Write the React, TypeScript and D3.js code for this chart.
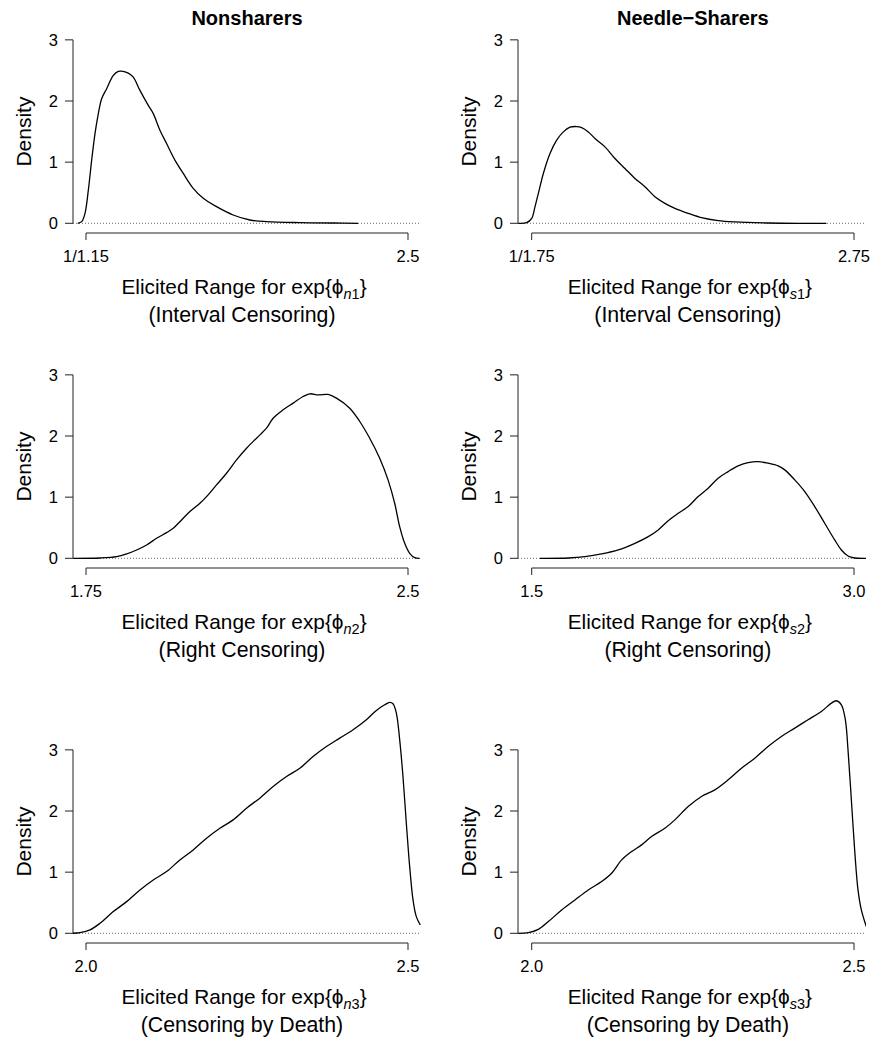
import * as d3 from "d3";

// column titles
const groupTitles = ["Nonsharers", "Needle\u2212Sharers"];
const groupLetters = ["n", "s"];
const censorNotes = ["(Interval Censoring)", "(Right Censoring)", "(Censoring by Death)"];
const densityTicks = [0, 1, 2, 3];

// x axis ticks per panel (value, label)
const nsIntTicks = [1 / 1.15, 2.5];
const nsIntTickLabels = ["1/1.15", "2.5"];
const shIntTicks = [1 / 1.75, 2.75];
const shIntTickLabels = ["1/1.75", "2.75"];
const nsRightTicks = [1.75, 2.5];
const nsRightTickLabels = ["1.75", "2.5"];
const shRightTicks = [1.5, 3.0];
const shRightTickLabels = ["1.5", "3.0"];
const deathTicks = [2.0, 2.5];
const deathTickLabels = ["2.0", "2.5"];

// density curves
const nsIntX = [0.8275, 0.8477, 0.8645, 0.8814, 0.8983, 0.9151, 0.932, 0.9488, 0.9741, 1.0079, 1.0331, 1.05, 1.0837, 1.109, 1.1427, 1.1849, 1.2102, 1.2439, 1.2776, 1.3198, 1.3619, 1.4125, 1.4631, 1.5305, 1.6148, 1.6991, 1.7834, 1.9521, 2.1207, 2.2471];
const nsIntY = [0, 0.027, 0.163, 0.543, 1.033, 1.467, 1.793, 2.038, 2.201, 2.418, 2.484, 2.489, 2.457, 2.391, 2.174, 1.929, 1.793, 1.522, 1.304, 1.033, 0.815, 0.571, 0.408, 0.272, 0.136, 0.054, 0.027, 0.011, 0.005, 0];

const shIntX = [0.4814, 0.5376, 0.5714, 0.5939, 0.6164, 0.6502, 0.6952, 0.7402, 0.7852, 0.8302, 0.8752, 0.909, 0.954, 0.999, 1.0666, 1.1341, 1.2016, 1.2691, 1.3366, 1.4042, 1.4717, 1.5392, 1.6293, 1.7193, 1.8318, 1.9443, 2.1694, 2.3945, 2.5633];
const shIntY = [0, 0.011, 0.082, 0.272, 0.489, 0.815, 1.141, 1.359, 1.495, 1.571, 1.582, 1.565, 1.495, 1.386, 1.25, 1.06, 0.897, 0.734, 0.598, 0.435, 0.326, 0.245, 0.163, 0.092, 0.043, 0.022, 0.005, 0, 0];

const nsRightX = [1.7205, 1.7826, 1.8214, 1.8446, 1.8679, 1.8912, 1.9144, 1.9377, 1.9532, 1.9726, 1.992, 2.0153, 2.0308, 2.054, 2.0773, 2.1006, 2.1239, 2.1471, 2.1704, 2.1859, 2.2092, 2.2324, 2.2557, 2.2712, 2.2906, 2.3139, 2.3333, 2.3643, 2.3876, 2.4108, 2.4341, 2.4535, 2.469, 2.4806, 2.4923, 2.5039, 2.5155, 2.5272];
const nsRightY = [0, 0.005, 0.027, 0.071, 0.136, 0.218, 0.327, 0.42, 0.491, 0.627, 0.764, 0.9, 1.009, 1.2, 1.391, 1.609, 1.8, 1.964, 2.128, 2.291, 2.428, 2.537, 2.646, 2.69, 2.673, 2.679, 2.619, 2.455, 2.237, 1.964, 1.637, 1.282, 0.9, 0.518, 0.245, 0.082, 0.011, 0];

const shRightX = [1.5387, 1.6705, 1.748, 1.8254, 1.9029, 1.9804, 2.0424, 2.0889, 2.1354, 2.1819, 2.2283, 2.2748, 2.3213, 2.3678, 2.4143, 2.4608, 2.5073, 2.5538, 2.6003, 2.6468, 2.6778, 2.7242, 2.7707, 2.8172, 2.8637, 2.9102, 2.9412, 2.9722, 3.0032, 3.0574];
const shRightY = [0, 0.005, 0.027, 0.071, 0.136, 0.245, 0.355, 0.464, 0.616, 0.736, 0.846, 1.009, 1.146, 1.309, 1.418, 1.511, 1.566, 1.582, 1.555, 1.511, 1.446, 1.282, 1.091, 0.846, 0.573, 0.3, 0.136, 0.038, 0.005, 0];

const nsDeathX = [1.9778, 1.9907, 2.0062, 2.0217, 2.0424, 2.0631, 2.0838, 2.1044, 2.1251, 2.1458, 2.1665, 2.1872, 2.2079, 2.2285, 2.2492, 2.2699, 2.2906, 2.3113, 2.332, 2.3526, 2.3733, 2.394, 2.4147, 2.4354, 2.4509, 2.4638, 2.4716, 2.4767, 2.4819, 2.4871, 2.4922, 2.4974, 2.5026, 2.5078, 2.5129, 2.5191];
const nsDeathY = [0, 0.011, 0.055, 0.164, 0.355, 0.518, 0.709, 0.873, 1.009, 1.2, 1.364, 1.555, 1.718, 1.855, 2.046, 2.21, 2.4, 2.564, 2.7, 2.891, 3.055, 3.191, 3.328, 3.492, 3.644, 3.737, 3.775, 3.753, 3.601, 3.164, 2.564, 1.8, 1.091, 0.546, 0.273, 0.136];

const shDeathX = [1.9793, 1.9948, 2.0103, 2.0258, 2.0465, 2.0671, 2.0878, 2.1085, 2.124, 2.1395, 2.155, 2.1705, 2.186, 2.2066, 2.2221, 2.2428, 2.2634, 2.2841, 2.3048, 2.3254, 2.3461, 2.3667, 2.3874, 2.4081, 2.4287, 2.4494, 2.4649, 2.4726, 2.4804, 2.4866, 2.4907, 2.4959, 2.501, 2.5062, 2.5114, 2.5191];
const shDeathY = [0, 0.011, 0.065, 0.191, 0.382, 0.546, 0.709, 0.846, 0.982, 1.2, 1.337, 1.446, 1.582, 1.718, 1.855, 2.073, 2.237, 2.346, 2.51, 2.7, 2.864, 3.055, 3.219, 3.355, 3.492, 3.628, 3.764, 3.803, 3.737, 3.492, 3.0, 2.182, 1.364, 0.709, 0.382, 0.109];

const panels = [
  { row: 0, col: 0, xs: nsIntX, ys: nsIntY, ticks: nsIntTicks, labels: nsIntTickLabels },
  { row: 0, col: 1, xs: shIntX, ys: shIntY, ticks: shIntTicks, labels: shIntTickLabels },
  { row: 1, col: 0, xs: nsRightX, ys: nsRightY, ticks: nsRightTicks, labels: nsRightTickLabels },
  { row: 1, col: 1, xs: shRightX, ys: shRightY, ticks: shRightTicks, labels: shRightTickLabels },
  { row: 2, col: 0, xs: nsDeathX, ys: nsDeathY, ticks: deathTicks, labels: deathTickLabels },
  { row: 2, col: 1, xs: shDeathX, ys: shDeathY, ticks: deathTicks, labels: deathTickLabels },
];

const W = 870, H = 1038;
const font = "'Liberation Sans', Arial, Helvetica, sans-serif";
const colAxisX = [73, 518];     // y axis / left edge of plot region
const colRight = [421, 866];    // right edge of plot region
const colTickA = [86, 531.7];   // first x tick
const colTickB = [408, 854];    // last x tick
const rowZero = [223.3, 558.3, 933.3];
const unitPx = 61.15;

function Panel({ p, idx }) {
  const { row, col } = p;
  const x = d3.scaleLinear().domain(p.ticks).range([colTickA[col], colTickB[col]]);
  const y = d3.scaleLinear().domain([0, 3]).range([rowZero[row], rowZero[row] - 3 * unitPx]);
  const pts = p.xs.map((v, i) => [v, p.ys[i]]);
  const line = d3.line().x(d => x(d[0])).y(d => y(d[1])).curve(d3.curveCatmullRom.alpha(0.5));
  const axX = colAxisX[col];
  const xAxisY = y(0) + 9.7;
  const cx = (colTickA[col] + colTickB[col]) / 2 - 3;
  const clipId = `clip${idx}`;
  return (
    <g>
      <defs>
        <clipPath id={clipId}>
          <rect x={axX} y={y(0) - 260} width={colRight[col] - axX} height={265} />
        </clipPath>
      </defs>
      {row === 0 && (
        <text x={(colTickA[col] + colTickB[col]) / 2} y={25} textAnchor="middle"
          fontWeight="bold" fontSize={20} fontFamily={font}>{groupTitles[col]}</text>
      )}
      {/* dotted zero line */}
      <line x1={axX} x2={colRight[col]} y1={y(0)} y2={y(0)} stroke="#444" strokeWidth={0.8} strokeDasharray="1 2" />
      {/* y axis */}
      <line x1={axX} x2={axX} y1={y(0)} y2={y(3)} stroke="#222" strokeWidth={1} />
      {densityTicks.map(t => (
        <g key={t}>
          <line x1={axX - 8} x2={axX} y1={y(t)} y2={y(t)} stroke="#222" strokeWidth={1} />
          <text x={axX - 15} y={y(t)} dy="0.36em" textAnchor="end" fontSize={16.5} fontFamily={font}>{t}</text>
        </g>
      ))}
      <text transform={`translate(${axX - 50},${y(1.5)}) rotate(-90)`} textAnchor="middle"
        dy="0.36em" fontSize={21} fontFamily={font}>Density</text>
      {/* x axis */}
      <line x1={x(p.ticks[0])} x2={x(p.ticks[1])} y1={xAxisY} y2={xAxisY} stroke="#222" strokeWidth={1} />
      {p.ticks.map((t, i) => (
        <g key={i}>
          <line x1={x(t)} x2={x(t)} y1={xAxisY} y2={xAxisY + 7} stroke="#222" strokeWidth={1} />
          <text x={x(t)} y={xAxisY + 28.5} textAnchor="middle" fontSize={16.5} fontFamily={font}>{p.labels[i]}</text>
        </g>
      ))}
      <text x={cx} y={xAxisY + 61} textAnchor="middle" fontSize={20.8} fontFamily={font}>
        <tspan>Elicited Range for exp{"{"}ϕ</tspan>
        <tspan fontSize={14.5} fontStyle="italic" dy={5}>{groupLetters[col]}</tspan>
        <tspan fontSize={14.5}>{row + 1}</tspan>
        <tspan dy={-5}>{"}"}</tspan>
      </text>
      <text x={cx - 2} y={xAxisY + 89} textAnchor="middle" fontSize={21.3} fontFamily={font}>{censorNotes[row]}</text>
      {/* density curve */}
      <path d={line(pts)} fill="none" stroke="#000" strokeWidth={1.3} clipPath={`url(#${clipId})`} />
    </g>
  );
}

export default function App() {
  return (
    <svg width={W} height={H} viewBox={`0 0 ${W} ${H}`}
      style={{ position: "absolute", left: 0, top: 0, background: "#fff" }}>
      <rect width={W} height={H} fill="#fff" />
      {panels.map((p, i) => <Panel key={i} p={p} idx={i} />)}
    </svg>
  );
}
